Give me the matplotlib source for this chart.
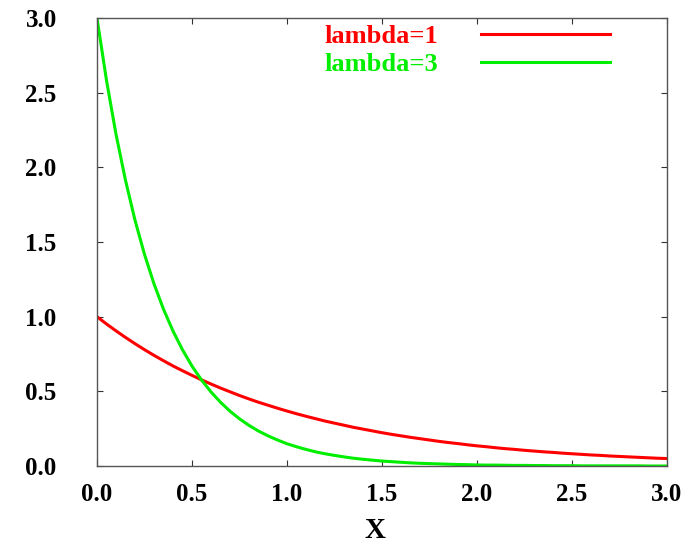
import matplotlib
matplotlib.use("Agg")
import matplotlib.pyplot as plt

x = [0.00, 0.05, 0.10, 0.15, 0.20, 0.25, 0.30, 0.35, 0.40, 0.45,
     0.50, 0.55, 0.60, 0.65, 0.70, 0.75, 0.80, 0.85, 0.90, 0.95,
     1.00, 1.05, 1.10, 1.15, 1.20, 1.25, 1.30, 1.35, 1.40, 1.45,
     1.50, 1.55, 1.60, 1.65, 1.70, 1.75, 1.80, 1.85, 1.90, 1.95,
     2.00, 2.05, 2.10, 2.15, 2.20, 2.25, 2.30, 2.35, 2.40, 2.45,
     2.50, 2.55, 2.60, 2.65, 2.70, 2.75, 2.80, 2.85, 2.90, 2.95, 3.00]

lambda1 = [1.000, 0.951, 0.905, 0.861, 0.819, 0.779, 0.741, 0.705, 0.670, 0.638,
           0.607, 0.577, 0.549, 0.522, 0.497, 0.472, 0.449, 0.427, 0.407, 0.387,
           0.368, 0.350, 0.333, 0.317, 0.301, 0.287, 0.273, 0.259, 0.247, 0.235,
           0.223, 0.212, 0.202, 0.192, 0.183, 0.174, 0.165, 0.157, 0.150, 0.142,
           0.135, 0.129, 0.122, 0.116, 0.111, 0.105, 0.100, 0.095, 0.091, 0.086,
           0.082, 0.078, 0.074, 0.071, 0.067, 0.064, 0.061, 0.058, 0.055, 0.052, 0.050]

lambda3 = [3.000, 2.582, 2.222, 1.913, 1.646, 1.417, 1.220, 1.050, 0.904, 0.778,
           0.669, 0.576, 0.496, 0.427, 0.367, 0.316, 0.272, 0.234, 0.202, 0.174,
           0.149, 0.129, 0.111, 0.095, 0.082, 0.071, 0.061, 0.052, 0.045, 0.039,
           0.033, 0.029, 0.025, 0.021, 0.018, 0.016, 0.014, 0.012, 0.010, 0.009,
           0.007, 0.006, 0.006, 0.005, 0.004, 0.004, 0.003, 0.003, 0.002, 0.002,
           0.002, 0.001, 0.001, 0.001, 0.001, 0.001, 0.001, 0.001, 0.000, 0.000, 0.000]

series_labels = ["lambda=1", "lambda=3"]
ticks = [0.0, 0.5, 1.0, 1.5, 2.0, 2.5, 3.0]
tick_labels = ["0.0", "0.5", "1.0", "1.5", "2.0", "2.5", "3.0"]

plt.rcParams['font.family'] = ['Liberation Serif', 'DejaVu Serif']
plt.rcParams['font.weight'] = 'bold'

fig = plt.figure(figsize=(6.91, 5.43), dpi=100)
ax = fig.add_axes([97/691, 1-466/543, 570/691, 448/543])

ax.plot(x, lambda1, color='#ff0000', lw=2.2, label=series_labels[0])
ax.plot(x, lambda3, color='#00ee00', lw=2.2, label=series_labels[1])

ax.set_xlim(0, 3)
ax.set_ylim(0, 3)
ax.set_xticks(ticks)
ax.set_xticklabels(tick_labels, fontsize=18, fontweight='bold')
ax.set_yticks(ticks)
ax.set_yticklabels(tick_labels, fontsize=18, fontweight='bold')
ax.tick_params(axis='both', direction='in', length=4, width=0.8, color='#333333',
               top=True, right=True)
ax.tick_params(axis='x', pad=12)
ax.tick_params(axis='y', pad=29)
for s in ax.spines.values():
    s.set_color('#555555')
    s.set_linewidth(1.0)

ax.set_xlabel("X", fontsize=21, fontweight='bold')
ax.xaxis.set_label_coords((375-97)/570, (466-517)/448)

leg = ax.legend(loc='upper right', bbox_to_anchor=((610-97)/570, (466-25)/448),
                frameon=False, markerfirst=False, handlelength=4.9, handletextpad=1.6,
                labelspacing=0.16, borderaxespad=0.0, borderpad=0.0,
                prop={'weight': 'bold', 'size': 19})
for t, c in zip(leg.get_texts(), ['#ff0000', '#00ee00']):
    t.set_color(c)

fig.savefig("out.png", dpi=100)
